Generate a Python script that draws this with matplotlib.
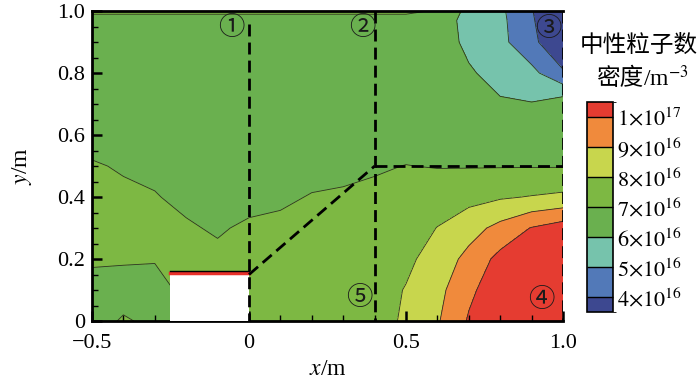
import numpy as np
import matplotlib
matplotlib.use("Agg")
import matplotlib.pyplot as plt
from matplotlib.colors import ListedColormap, BoundaryNorm
from matplotlib.cm import ScalarMappable
from matplotlib.patches import Rectangle
from matplotlib.ticker import MultipleLocator, FixedLocator

plt.rcParams['font.family'] = ['Liberation Serif', 'Noto Sans CJK SC']
plt.rcParams['mathtext.fontset'] = 'stix'

# grid of neutral density, units of 1e16 m^-3
x_grid = [-0.5, -0.4, -0.3, -0.2, -0.1, 0.0, 0.1, 0.2, 0.3, 0.4, 0.5, 0.6, 0.7, 0.8, 0.9, 1.0]
y_grid = [0.0, 0.1, 0.2, 0.3, 0.4, 0.5, 0.6, 0.7, 0.8, 0.9, 0.97, 1.0]
density = [
    [6.6, 7.1, 6.8, 7.2, 7.3, 7.4, 7.4, 7.5, 7.5, 7.6, 8.15, 8.9, 10.1, 10.8, 11.2, 11.5],
    [6.6, 6.6, 6.7, 7.2, 7.3, 7.4, 7.5, 7.5, 7.5, 7.6, 8.05, 8.7, 9.8, 10.6, 11.0, 11.3],
    [7.15, 7.1, 7.05, 7.3, 7.2, 7.3, 7.4, 7.5, 7.5, 7.5, 7.8, 8.4, 9.3, 10.3, 10.7, 11.0],
    [7.3, 7.3, 7.25, 7.1, 6.9, 7.15, 7.2, 7.3, 7.4, 7.4, 7.6, 8.02, 8.6, 9.3, 10.05, 10.5],
    [7.25, 7.2, 7.05, 6.8, 6.7, 6.7, 6.85, 7.05, 7.1, 7.2, 7.3, 7.6, 7.7, 7.9, 8.05, 8.2],
    [7.1, 6.9, 6.8, 6.7, 6.6, 6.6, 6.6, 6.7, 6.8, 6.9, 7.02, 6.95, 6.95, 6.95, 6.95, 6.95],
    [6.6, 6.6, 6.55, 6.55, 6.55, 6.55, 6.55, 6.55, 6.55, 6.6, 6.6, 6.6, 6.6, 6.6, 6.6, 6.6],
    [6.5, 6.5, 6.5, 6.5, 6.5, 6.5, 6.5, 6.5, 6.5, 6.5, 6.5, 6.6, 6.5, 6.1, 6.05, 6.6],
    [6.5, 6.5, 6.5, 6.5, 6.5, 6.5, 6.5, 6.5, 6.5, 6.5, 6.5, 6.6, 6.1, 5.7, 5.3, 4.1],
    [6.5, 6.5, 6.5, 6.5, 6.5, 6.5, 6.5, 6.5, 6.5, 6.5, 6.5, 6.45, 5.8, 5.3, 4.2, 3.3],
    [6.6, 6.6, 6.6, 6.6, 6.6, 6.6, 6.6, 6.6, 6.6, 6.6, 6.6, 6.4, 5.75, 5.25, 4.1, 3.1],
    [7.2, 7.2, 7.2, 7.2, 7.2, 7.2, 7.2, 7.2, 7.2, 7.2, 7.2, 6.9, 5.7, 5.2, 4.05, 3.0],
]

levels = [0, 4, 5, 6, 7, 8, 9, 10, 20]
level_colors = ['#3d4890', '#5279b8', '#76c3ac', '#6ab04f', '#7db843',
                '#c8d64d', '#f08a3c', '#e53c31']
cbar_ticks = [4, 5, 6, 7, 8, 9, 10]
cbar_labels = [r'$4{\times}10^{16}$', r'$5{\times}10^{16}$', r'$6{\times}10^{16}$',
               r'$7{\times}10^{16}$', r'$8{\times}10^{16}$', r'$9{\times}10^{16}$',
               r'$1{\times}10^{17}$']

# geometry of the model: solid block and zone borders
block_x = (-0.25, 0.0)
block_h = 0.15
zone_lines = [
    ((0.0, 0.0), (0.96, 0.0)),
    ((0.4, 0.4), (1.0, 0.0)),
    ((0.4, 1.0), (0.5, 0.5)),
    ((0.0, 0.4), (0.15, 0.5)),
    ((1.0, 1.0), (1.0, 0.0)),
]
zone_marks = ['①', '②', '③', '④', '⑤']
zone_mark_xy = [(-0.055, 0.948), (0.36, 0.948), (0.952, 0.945), (0.93, 0.068), (0.352, 0.075)]

fig = plt.figure(figsize=(7.0, 3.84), dpi=100)
ax = fig.add_axes([0.1314, 0.164, 0.6729, 0.807])

X, Y = np.meshgrid(x_grid, y_grid)
Z = np.array(density)
ax.contourf(X, Y, Z, levels=levels, colors=level_colors)
ax.contour(X, Y, Z, levels=levels[1:-1], colors='#2b3322', linewidths=0.6)

ax.add_patch(Rectangle((block_x[0], 0), block_x[1] - block_x[0], block_h,
                       facecolor='white', edgecolor='none', zorder=3))
ax.plot(block_x, [block_h + 0.005, block_h + 0.005], color='#e8302a', lw=2.5, zorder=4)
ax.plot(block_x, [block_h + 0.013, block_h + 0.013], color='black', lw=1.0, zorder=4)

for xs, ys in zone_lines:
    ax.plot(xs, ys, color='black', lw=2, linestyle=(0, (4.3, 2.2)), zorder=5)

for mark, (mx, my) in zip(zone_marks, zone_mark_xy):
    ax.text(mx, my, mark, ha='center', va='center', fontsize=19,
            family=['Noto Sans CJK SC'], color='#1a1a1a', zorder=6)

ax.set_xlim(-0.5, 1.0)
ax.set_ylim(0, 1.0)
ax.xaxis.set_major_locator(FixedLocator([-0.5, 0, 0.5, 1.0]))
ax.set_xticklabels(['\u22120.5', '0', '0.5', '1.0'])
ax.xaxis.set_minor_locator(MultipleLocator(0.1))
ax.set_yticks([0, 0.2, 0.4, 0.6, 0.8, 1.0])
ax.set_yticklabels(['0', '0.2', '0.4', '0.6', '0.8', '1.0'])
ax.yaxis.set_minor_locator(MultipleLocator(0.05))
ax.tick_params(which='both', direction='in', labelsize=16, top=False, right=False)
ax.tick_params(which='major', length=7, width=1.8)
ax.tick_params(which='minor', length=4, width=1.0)
ax.tick_params(axis='x', which='major', pad=9)
ax.tick_params(axis='y', which='major', pad=5)
for side in ['left', 'bottom', 'top']:
    ax.spines[side].set_linewidth(2)
ax.spines['right'].set_visible(False)
ax.set_xlabel('$x$/m', fontsize=17, labelpad=5)
ax.set_ylabel('$y$/m', fontsize=17, labelpad=17)

# colour bar with half-size end bins
cax = fig.add_axes([0.839, 0.1875, 0.037, 0.547])
bounds = [3.5, 4, 5, 6, 7, 8, 9, 10, 10.5]
cmap = ListedColormap(level_colors)
norm = BoundaryNorm(bounds, cmap.N)
cb = fig.colorbar(ScalarMappable(norm=norm, cmap=cmap), cax=cax, boundaries=bounds,
                  spacing='proportional', ticks=cbar_ticks, drawedges=True)
cb.set_ticklabels(cbar_labels)
cb.ax.tick_params(length=0, labelsize=16, pad=3)
cb.outline.set_linewidth(1.2)
cb.dividers.set_linewidth(1.0)

fig.text(0.912, 0.883, '中性粒子数', ha='center', va='center', fontsize=17,
         family=['Noto Sans CJK SC'])
fig.text(0.919, 0.795, '密度', ha='right', va='center', fontsize=17,
         family=['Noto Sans CJK SC'])
fig.text(0.919, 0.795, '/m$^{-3}$', ha='left', va='center', fontsize=17)

fig.savefig('out.png', dpi=100)
